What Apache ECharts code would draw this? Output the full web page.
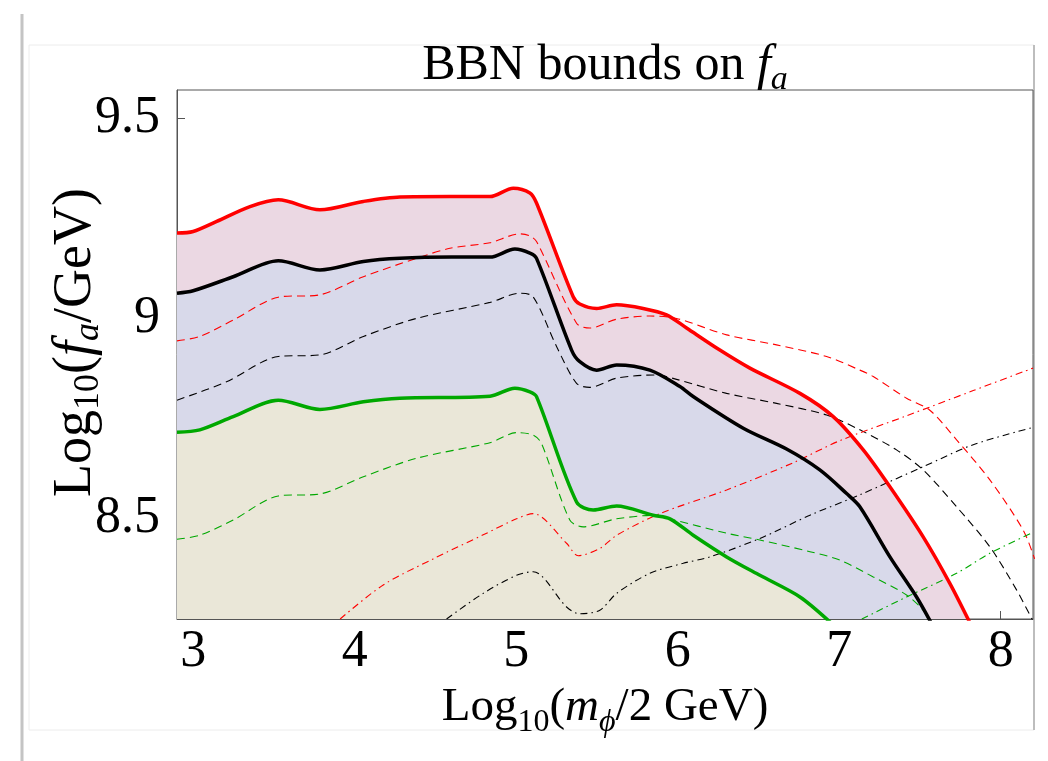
<!DOCTYPE html>
<html><head><meta charset="utf-8">
<script src="https://cdn.jsdelivr.net/npm/echarts@6/dist/echarts.min.js"></script>
<style>html,body{margin:0;padding:0;background:#fff}#c{width:1048px;height:761px}</style>
</head><body><div id="c"></div>
<script>
const xTicks = [3, 4, 5, 6, 7, 8];
const yTicks = [8.5, 9, 9.5];

const redSolid = [[2.9,9.213],[3.0,9.217],[3.146,9.242],[3.352,9.279],[3.527,9.296],[3.785,9.271],[4.054,9.292],[4.281,9.303],[4.59,9.304],[4.838,9.304],[4.982,9.325],[5.085,9.313],[5.126,9.288],[5.353,9.054],[5.394,9.036],[5.498,9.025],[5.622,9.034],[5.786,9.025],[5.931,9.009],[6.055,8.976],[6.261,8.921],[6.447,8.876],[6.757,8.813],[6.963,8.755],[7.149,8.672],[7.314,8.58],[7.52,8.455],[7.685,8.339],[7.81,8.24]];
const blackSolid = [[2.9,9.063],[3.0,9.069],[3.248,9.104],[3.527,9.144],[3.785,9.121],[4.054,9.142],[4.28,9.15],[4.6,9.153],[4.838,9.153],[4.992,9.173],[5.085,9.163],[5.126,9.15],[5.343,8.921],[5.394,8.892],[5.498,8.871],[5.622,8.884],[5.828,8.871],[6.014,8.83],[6.096,8.805],[6.406,8.726],[6.674,8.674],[6.88,8.622],[7.046,8.563],[7.128,8.53],[7.314,8.405],[7.479,8.305],[7.57,8.24]];
const greenSolid = [[2.9,8.716],[3.041,8.722],[3.248,8.755],[3.527,8.796],[3.785,8.773],[4.054,8.792],[4.28,8.801],[4.838,8.806],[4.992,8.826],[5.085,8.817],[5.126,8.805],[5.374,8.542],[5.477,8.522],[5.622,8.532],[5.848,8.509],[5.952,8.5],[6.096,8.459],[6.303,8.405],[6.509,8.359],[6.757,8.305],[6.95,8.24]];

const redDashed = [[2.9,8.944],[3.041,8.955],[3.248,8.996],[3.527,9.053],[3.785,9.059],[4.054,9.104],[4.383,9.15],[4.59,9.175],[4.838,9.189],[5.023,9.211],[5.085,9.206],[5.126,9.192],[5.374,8.988],[5.456,8.976],[5.622,8.998],[5.828,9.006],[5.993,9.0],[6.303,8.959],[6.612,8.934],[6.922,8.905],[7.128,8.871],[7.211,8.855],[7.417,8.801],[7.561,8.771],[7.727,8.697],[7.933,8.597],[8.139,8.472],[8.21,8.4]];
const blackDashed = [[2.9,8.796],[3.207,8.842],[3.527,8.905],[3.785,8.909],[4.054,8.955],[4.383,9.0],[4.838,9.04],[5.023,9.063],[5.105,9.054],[5.25,8.93],[5.374,8.838],[5.456,8.828],[5.622,8.851],[5.869,8.859],[5.993,8.848],[6.303,8.813],[6.612,8.788],[6.922,8.759],[7.128,8.722],[7.355,8.672],[7.52,8.622],[7.727,8.53],[7.933,8.43],[8.099,8.322],[8.2,8.245]];
const greenDashed = [[2.9,8.449],[3.041,8.459],[3.248,8.497],[3.527,8.557],[3.785,8.562],[4.054,8.605],[4.383,8.651],[4.838,8.69],[5.002,8.715],[5.105,8.709],[5.157,8.688],[5.332,8.497],[5.415,8.48],[5.622,8.5],[5.869,8.509],[5.952,8.5],[6.303,8.464],[6.509,8.447],[6.819,8.418],[7.004,8.397],[7.211,8.355],[7.417,8.31],[7.52,8.272],[7.57,8.24]];

const redDashDot = [[3.91,8.25],[4.177,8.335],[4.486,8.4],[4.796,8.46],[5.002,8.5],[5.105,8.513],[5.312,8.439],[5.384,8.408],[5.518,8.426],[5.622,8.459],[5.89,8.513],[6.303,8.572],[6.716,8.64],[7.004,8.695],[7.417,8.757],[7.83,8.82],[8.2,8.876]];
const blackDashDot = [[4.569,8.25],[4.796,8.314],[5.002,8.359],[5.105,8.368],[5.312,8.28],[5.394,8.263],[5.518,8.272],[5.622,8.314],[5.828,8.364],[6.034,8.389],[6.2,8.405],[6.509,8.451],[6.819,8.509],[7.128,8.56],[7.52,8.63],[7.83,8.685],[8.2,8.728]];
const greenDashDot = [[7.14,8.25],[7.417,8.305],[7.727,8.364],[7.933,8.414],[8.2,8.466]];

const FONT = '"Liberation Serif","DejaVu Serif",serif';
function rich(fs, sub) {
  return {
    n: {fontFamily: FONT, fontSize: fs, color: '#000', lineHeight: 62, verticalAlign: 'middle'},
    i: {fontFamily: FONT, fontSize: fs, fontStyle: 'italic', color: '#000', lineHeight: 62, verticalAlign: 'middle'},
    s: {fontFamily: FONT, fontSize: sub, color: '#000', lineHeight: 62, verticalAlign: 'bottom'},
    si: {fontFamily: FONT, fontSize: sub, fontStyle: 'italic', color: '#000', lineHeight: 62, verticalAlign: 'bottom'}
  };
}

function fill(data, color, z) {
  return {type: 'line', data: data, smooth: 0.3, showSymbol: false, silent: true, z: z,
    lineStyle: {width: 0}, areaStyle: {color: color, opacity: 1, origin: 'start'}};
}
function line(data, color, width, dash, z) {
  return {type: 'line', data: data, smooth: 0.3, showSymbol: false, silent: true, z: z,
    lineStyle: {color: color, width: width, type: dash, cap: 'butt'}};
}
const DASH = [8, 5];
const DASHDOT = [7, 4, 1.5, 4];
const RED = '#ff0000', BLACK = '#000000', GREEN = '#00a800';

const chart = echarts.init(document.getElementById('c'), null, {renderer: 'canvas'});
chart.setOption({
  animation: false,
  backgroundColor: '#ffffff',
  grid: {left: 177, right: 15, top: 90, bottom: 142, show: true, borderColor: '#555', borderWidth: 1, backgroundColor: 'transparent'},
  graphic: [
    {type: 'line', z: -10, shape: {x1: 22, y1: 14, x2: 22, y2: 761}, style: {stroke: '#c4c4c4', lineWidth: 3}},
    {type: 'rect', z: -10, shape: {x: 29, y: 45, width: 1005, height: 685}, style: {fill: 'none', stroke: '#ececec', lineWidth: 1}},
    {type: 'line', z: -10, shape: {x1: 1034, y1: 45, x2: 1034, y2: 730}, style: {stroke: '#bdbdbd', lineWidth: 2}},
    {type: 'text', z: 10, x: 605, y: 66, style: {
      text: '{n|BBN bounds on }{i|f}{si|a}', align: 'center', verticalAlign: 'middle', rich: rich(50, 34)}}
  ],
  xAxis: {
    type: 'value', min: 2.9, max: 8.2,
    axisLine: {show: true, onZero: false, lineStyle: {color: '#555', width: 1}},
    axisTick: {show: true, inside: true, length: 8, customValues: xTicks, lineStyle: {color: '#555'}},
    axisLabel: {customValues: xTicks, fontFamily: FONT, fontSize: 52, color: '#000', margin: 7},
    splitLine: {show: false},
    name: '{n|Log}{s|10}{n|(}{i|m}{si|ϕ}{n|/2 GeV)}',
    nameLocation: 'middle', nameGap: 58, nameMoveOverlap: false,
    nameTextStyle: {rich: rich(47, 32)}
  },
  yAxis: {
    type: 'value', min: 8.25, max: 9.57,
    axisLine: {show: true, onZero: false, lineStyle: {color: '#555', width: 1}},
    axisTick: {show: true, inside: true, length: 8, customValues: yTicks, lineStyle: {color: '#555'}},
    axisLabel: {customValues: yTicks, fontFamily: FONT, fontSize: 52, color: '#000', margin: 17},
    splitLine: {show: false},
    name: '{n|Log}{s|10}{n|(}{i|f}{si|a}{n|/GeV)}',
    nameLocation: 'middle', nameGap: 70, nameRotate: 90, nameMoveOverlap: false,
    nameTextStyle: {rich: rich(54, 36), padding: [0, 0, 0, 24]}
  },
  series: [
    fill(redSolid, '#ebd8e3', 1),
    fill(blackSolid, '#d8d9ea', 2),
    fill(greenSolid, '#eae7d8', 3),
    line(redDashed, RED, 1.1, DASH, 5),
    line(blackDashed, BLACK, 1.1, DASH, 5),
    line(greenDashed, GREEN, 1.1, DASH, 5),
    line(redDashDot, RED, 1.1, DASHDOT, 5),
    line(blackDashDot, BLACK, 1.1, DASHDOT, 5),
    line(greenDashDot, GREEN, 1.1, DASHDOT, 5),
    line(redSolid, RED, 3.5, 'solid', 8),
    line(blackSolid, BLACK, 3.5, 'solid', 8),
    line(greenSolid, GREEN, 3.5, 'solid', 8)
  ]
});
</script>
</body></html>
